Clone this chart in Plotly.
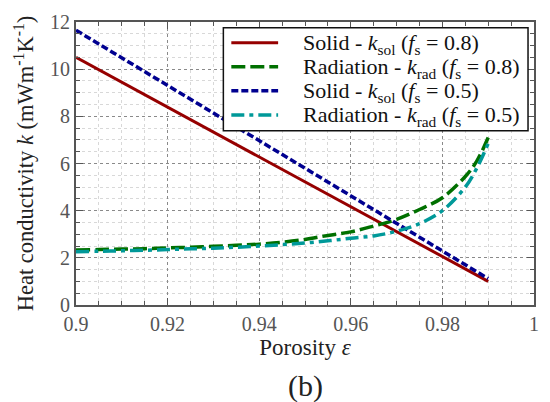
import plotly.graph_objects as go

porosity = [0.900, 0.905, 0.910, 0.915, 0.920, 0.925, 0.930, 0.935, 0.940, 0.945,
            0.950, 0.955, 0.960, 0.965, 0.970, 0.975, 0.980, 0.985, 0.9875, 0.990]
k_rad_08 = [2.33, 2.35, 2.37, 2.39, 2.42, 2.45, 2.49, 2.53, 2.58, 2.66,
            2.78, 2.95, 3.10, 3.35, 3.63, 4.05, 4.55, 5.45, 6.10, 7.10]
k_rad_05 = [2.26, 2.28, 2.30, 2.32, 2.35, 2.38, 2.41, 2.45, 2.50, 2.56,
            2.63, 2.72, 2.83, 2.93, 3.13, 3.45, 4.00, 5.00, 5.80, 6.85]
porosity_sol = [0.90, 0.99]
k_sol_08 = [10.5, 1.0]
k_sol_05 = [11.65, 1.12]

x_tickvals = [0.9, 0.92, 0.94, 0.96, 0.98, 1.0]
x_ticktext = ["0.9", "0.92", "0.94", "0.96", "0.98", "1"]
y_tickvals = [0, 2, 4, 6, 8, 10, 12]

names = [
    "Solid - <i>k</i><sub>sol</sub> (<i>f</i><sub>s</sub> = 0.8)",
    "Radiation - <i>k</i><sub>rad</sub> (<i>f</i><sub>s</sub> = 0.8)",
    "Solid - <i>k</i><sub>sol</sub> (<i>f</i><sub>s</sub> = 0.5)",
    "Radiation - <i>k</i><sub>rad</sub> (<i>f</i><sub>s</sub> = 0.5)",
]
colors = ["#960000", "#007000", "#000090", "#009999"]
dashes = ["solid", "14px,5px", "7px,3px", "13px,5px,4px,5px"]
widths = [3, 3.5, 3.5, 3.5]

FONT = "Liberation Serif"

W, H = 550, 402
ML, MR, MT, MB = 76, 14, 11, 97
PW, PH = W - ML - MR, H - MT - MB


def px_x(p):
    return (p - ML) / PW


def px_y(p):
    return (H - MB - p) / PH


fig = go.Figure()
series = [(porosity_sol, k_sol_08, "linear"), (porosity, k_rad_08, "spline"),
          (porosity_sol, k_sol_05, "linear"), (porosity, k_rad_05, "spline")]
for i, (xs, ys, shape) in enumerate(series):
    fig.add_trace(go.Scatter(x=xs, y=ys, mode="lines", name=names[i], showlegend=False,
                             line=dict(color=colors[i], width=widths[i], dash=dashes[i], shape=shape)))

axis_common = dict(
    showline=True, linecolor="#555555", linewidth=2, mirror="allticks",
    ticks="inside", ticklen=7, tickcolor="#555555", tickwidth=1.2,
    showgrid=True, gridcolor="#8a8a8a", griddash="3px,3px", gridwidth=1,
    zeroline=False,
    tickfont=dict(family=FONT, size=20, color="#555555"),
)

fig.update_xaxes(
    range=[0.9, 1.0], tickmode="array", tickvals=x_tickvals, ticktext=x_ticktext,
    minor=dict(dtick=0.005, showgrid=True, gridcolor="#d8d8d8", griddash="3px,3px",
               ticks="inside", ticklen=4, tickcolor="#555555"),
    title=dict(text="Porosity <i>ε</i>", font=dict(family=FONT, size=23, color="#222222"), standoff=5),
    **axis_common,
)
fig.update_yaxes(
    range=[0, 12], tickmode="array", tickvals=y_tickvals,
    minor=dict(dtick=0.5, showgrid=True, gridcolor="#d8d8d8", griddash="3px,3px",
               ticks="inside", ticklen=4, tickcolor="#555555"),
    title=dict(text="Heat conductivity <i>k</i> (mWm<sup>-1</sup>K<sup>-1</sup>)",
               font=dict(family=FONT, size=22.5, color="#222222"), standoff=10),
    **axis_common,
)

# caption
fig.add_annotation(text="(b)", xref="paper", yref="paper", x=px_x(307), y=px_y(389),
                   xanchor="center", yanchor="middle", showarrow=False,
                   font=dict(family=FONT, size=30, color="#222222"))

# manual legend (box, line samples, labels)
box_l, box_r, box_t, box_b = 224, 530, 17, 124
fig.add_shape(type="rect", xref="paper", yref="paper",
              x0=px_x(box_l), x1=px_x(box_r), y0=px_y(box_b), y1=px_y(box_t),
              line=dict(color="#111111", width=1.5), fillcolor="white", layer="above")
row_y = [32.5, 57.5, 82.5, 107.5]
for i in range(4):
    fig.add_shape(type="line", xref="paper", yref="paper",
                  x0=px_x(232), x1=px_x(279), y0=px_y(row_y[i]), y1=px_y(row_y[i]),
                  line=dict(color=colors[i], width=widths[i], dash=dashes[i]), layer="above")
    fig.add_annotation(text=names[i], xref="paper", yref="paper",
                       x=px_x(303), y=px_y(row_y[i] + 1), xanchor="left", yanchor="middle",
                       align="left", width=226, height=24, valign="middle", borderpad=0,
                       showarrow=False, font=dict(family=FONT, size=22, color="#111111"))

fig.update_layout(
    width=W, height=H,
    margin=dict(l=ML, r=MR, t=MT, b=MB),
    paper_bgcolor="white", plot_bgcolor="white",
    font=dict(family=FONT),
    showlegend=False,
)

fig.write_html("out.html")
